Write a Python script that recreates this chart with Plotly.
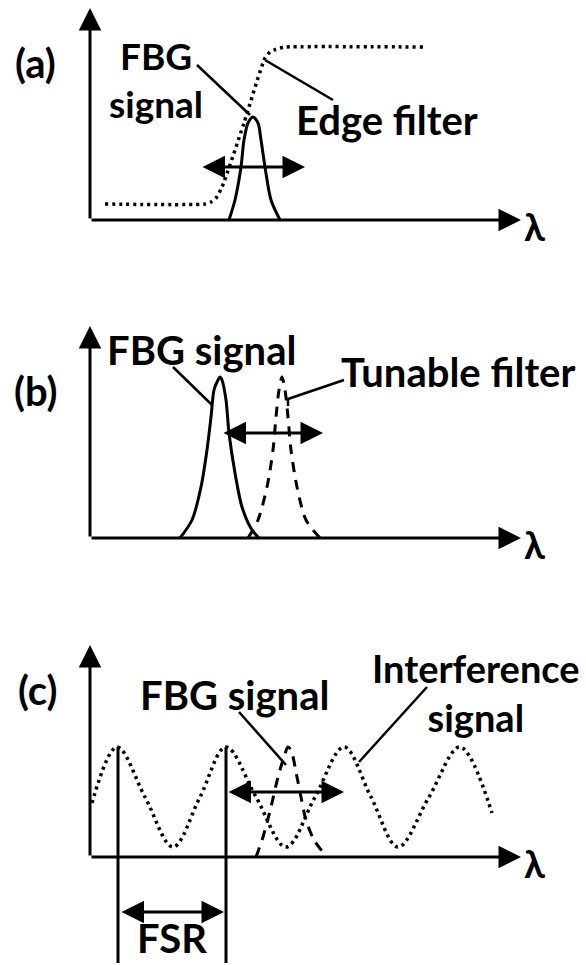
import plotly.graph_objects as go

# ---------------- data (arbitrary wavelength / intensity units) ----------------
# Panel (a): edge filter (dotted) and FBG reflection peak (solid)
a_edge_x = [15, 115, 121, 126, 132, 154, 175, 180, 184, 190, 196, 333]
a_edge_y = [16, 16, 18, 22, 33, 97, 162, 168, 170, 172, 173, 173]
a_fbg_x = [139, 145, 151, 154, 158, 163, 168, 171, 175, 181, 190]
a_fbg_y = [0, 20, 53, 80, 97, 103, 97, 80, 53, 20, 0]

# Panel (b): FBG peak (solid) and tunable filter (dashed)
b_fbg_x = [90, 102, 111, 117, 121, 124, 128, 130, 132, 136, 139, 145, 152, 162, 169]
b_fbg_y = [0, 18, 51, 88, 121, 148, 158, 161, 158, 138, 105, 65, 31, 8, 0]
b_tun_x = [158, 168, 177, 183, 186, 189, 192, 195, 198, 201, 207, 216, 230]
b_tun_y = [0, 18, 51, 88, 121, 148, 161, 148, 121, 88, 51, 18, 0]

# Panel (c): interference comb (dotted) and FBG peak (dashed)
c_int_x = [2, 27, 55, 83, 110, 136, 166, 196, 225, 254, 281, 308, 339, 370, 402]
c_int_y = [54, 110, 60, 10, 60, 110, 60, 10, 60, 110, 60, 10, 60, 110, 44]
c_fbg_x = [166, 173, 181, 188, 194, 198, 201, 207, 211, 216, 224, 237]
c_fbg_y = [0, 20, 50, 80, 100, 110, 107, 80, 60, 37, 17, 0]
c_fsr_peaks = [28, 136]

FONT = dict(family="Lato", size=40, color="black", weight=700)
BLACK = "black"

fig = go.Figure()

ROWS = {
    1: dict(x="x", y="y", yr=[-80, 220], dom=[1 - 300 / 965, 1]),
    2: dict(x="x2", y="y2", yr=[-52, 238], dom=[1 - 590 / 965, 1 - 300 / 965]),
    3: dict(x="x3", y="y3", yr=[-108, 267], dom=[0, 1 - 590 / 965]),
}


def add_line(row, xs, ys, dash="solid", width=3, shape="spline", smooth=0.8):
    r = ROWS[row]
    fig.add_trace(go.Scatter(
        x=xs, y=ys, mode="lines", xaxis=r["x"], yaxis=r["y"],
        line=dict(color=BLACK, width=width, dash=dash, shape=shape,
                  smoothing=smooth if shape == "spline" else None),
        hoverinfo="skip", showlegend=False))


def add_arrow(row, x0, y0, x1, y1, both=False):
    r = ROWS[row]
    fig.add_annotation(
        x=x1, y=y1, ax=x0, ay=y0, xref=r["x"], yref=r["y"],
        axref=r["x"], ayref=r["y"], text="", showarrow=True,
        arrowhead=2, startarrowhead=2, arrowsize=1.5, startarrowsize=1.5,
        arrowwidth=3, arrowcolor=BLACK,
        arrowside="end+start" if both else "end", standoff=0, startstandoff=0)


def add_text(row, x, y, text, size=40):
    r = ROWS[row]
    f = dict(FONT)
    f["size"] = size
    fig.add_annotation(x=x, y=y, xref=r["x"], yref=r["y"], text=text,
                       showarrow=False, font=f, xanchor="center", yanchor="middle",
                       align="center")


for row in (1, 2, 3):
    add_arrow(row, 0, 0, 0, 212)      # intensity axis
    add_arrow(row, 0, 0, 431, 0)      # wavelength axis
    add_text(row, 444, -6, "λ", size=38)

# ---- (a)
add_line(1, a_edge_x, a_edge_y, dash="3px,4px", width=3.5, smooth=0.6)
add_line(1, a_fbg_x, a_fbg_y, width=3)
add_arrow(1, 111, 53, 215, 53, both=True)
add_line(1, [107, 160], [155, 105], shape="linear", width=2.5)
add_line(1, [175, 243], [160, 120], shape="linear", width=2.5)
add_text(1, -55, 157, "(a)")
add_text(1, 66, 141, "FBG<br>signal", size=37)
add_text(1, 297, 100, "Edge filter")

# ---- (b)
add_line(2, b_fbg_x, b_fbg_y, width=3)
add_line(2, b_tun_x, b_tun_y, dash="10px,8px", width=3)
add_arrow(2, 132, 105, 233, 105, both=True)
add_line(2, [83, 122], [171, 133], shape="linear", width=2.5)
add_line(2, [254, 198, 198], [158, 139, 132], shape="linear", width=2.5)
add_text(2, -54, 147, "(b)")
add_text(2, 111, 188, "FBG signal")
add_text(2, 368, 166, "Tunable filter")

# ---- (c)
add_line(3, c_int_x, c_int_y, dash="3px,4px", width=3.5, smooth=1.0)
add_line(3, c_fbg_x, c_fbg_y, dash="10px,8px", width=3)
add_arrow(3, 137, 65, 254, 65, both=True)
for px in c_fsr_peaks:
    add_line(3, [px, px], [110, -106], shape="linear", width=3)
add_arrow(3, c_fsr_peaks[0] + 2, -55, c_fsr_peaks[1] - 2, -55, both=True)
add_line(3, [149, 196], [145, 92], shape="linear", width=2.5)
add_line(3, [337, 269], [170, 95], shape="linear", width=2.5)
add_text(3, -53, 167, "(c)")
add_text(3, 144, 162, "FBG signal")
add_text(3, 386, 165, "Interference<br>signal", size=38)
add_text(3, 82, -81, "FSR")

layout = dict(width=586, height=965, margin=dict(l=0, r=0, t=0, b=0),
              paper_bgcolor="white", plot_bgcolor="white", showlegend=False)
for row, r in ROWS.items():
    xa = "xaxis" if row == 1 else f"xaxis{row}"
    ya = "yaxis" if row == 1 else f"yaxis{row}"
    layout[xa] = dict(domain=[0, 1], range=[-90, 496], visible=False,
                      anchor=r["y"], fixedrange=True)
    layout[ya] = dict(domain=r["dom"], range=r["yr"], visible=False,
                      anchor=r["x"], fixedrange=True)
fig.update_layout(**layout)
fig.write_html("out.html")
